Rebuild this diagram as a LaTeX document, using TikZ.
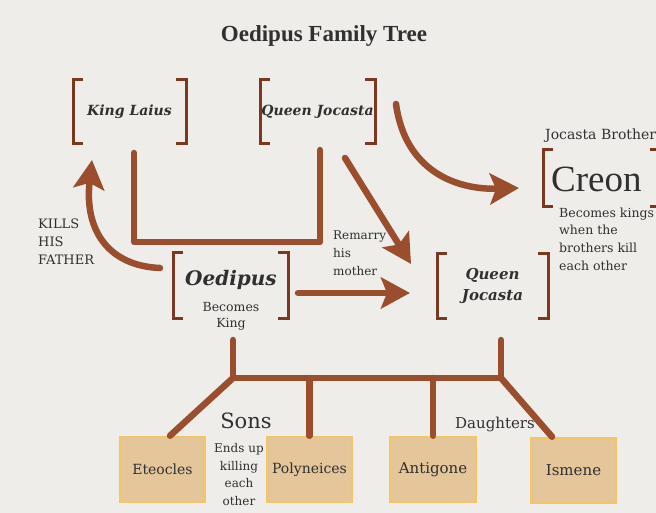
\documentclass[tikz,border=0pt]{standalone}
\usepackage{fontspec}
\setmainfont{DejaVu Serif}
\newfontfamily\titlefont{Liberation Serif}
\usetikzlibrary{arrows.meta}
\definecolor{bg}{HTML}{EEEDEA}
\definecolor{brownline}{HTML}{9A4E2D}
\definecolor{bracketc}{HTML}{7A3820}
\definecolor{txt}{HTML}{303030}
\definecolor{boxfill}{HTML}{E5C59A}
\definecolor{boxedge}{HTML}{F3C468}
\newcommand\setfs[2]{\fontsize{#1}{#2}\selectfont}
\newcommand\drawbrackets[1]{%
  \draw[bracketline] ([xshift=10pt]#1.north west) -- (#1.north west) -- (#1.south west) -- ([xshift=10pt]#1.south west);
  \draw[bracketline] ([xshift=-10pt]#1.north east) -- (#1.north east) -- (#1.south east) -- ([xshift=-10pt]#1.south east);}
\begin{document}
\begin{tikzpicture}[x=1pt,y=-1pt,
  bracketline/.style={draw=bracketc, line width=3pt},
  frame/.style={inner sep=0pt, outer sep=0pt, text=txt},
  note/.style={inner sep=0pt, text=txt},
  conn/.style={draw=brownline, line width=6.5pt, line cap=round, line join=round},
  arr/.style={conn, -{Stealth[length=29pt,width=31pt,inset=6pt]}},
  kid/.style={draw=boxedge, fill=boxfill, line width=2.5pt, minimum width=85pt, minimum height=65pt, inner sep=0pt, text=txt}]
\fill[bg] (0,0) rectangle (656,513);
\useasboundingbox (0,0) rectangle (656,513);

% title
\node[note, font=\titlefont\bfseries\setfs{23}{27}] (title) at (324,36) {Oedipus Family Tree};

% bracketed people
\node[frame, minimum width=113pt, minimum height=64pt, font=\bfseries\itshape\setfs{14}{16}] (laius) at (129.5,112) {King Laius};
\node[frame, minimum width=115pt, minimum height=64pt, font=\bfseries\itshape\setfs{14}{16}] (jocA) at (317.5,112) {Queen Jocasta};
\node[frame, minimum width=115pt, minimum height=65pt] (oed) at (230.5,285.5) {};
\node[note, font=\bfseries\itshape\setfs{20}{24}, anchor=base] (oedname) at (231,285) {Oedipus};
\node[note, align=center, anchor=north, font=\setfs{12.5}{16}] (oednote) at (231,302.5) {Becomes\\King};
\node[frame, minimum width=111pt, minimum height=64pt, align=center, font=\bfseries\itshape\setfs{15}{21}] (jocB) at (492.5,286) {Queen\\Jocasta};
\node[frame, minimum width=117pt, minimum height=57pt] (creonbox) at (601.5,178.5) {};
\node[note, font=\titlefont\setfs{37}{40}, anchor=base west] (creon) at (551,192) {Creon};
\drawbrackets{laius}
\drawbrackets{jocA}
\drawbrackets{oed}
\drawbrackets{jocB}
\drawbrackets{creonbox}

% annotations
\node[note, anchor=base west, font=\setfs{14}{16}] (jbro) at (545,140) {Jocasta Brother};
\node[note, align=left, anchor=north west, font=\setfs{12.5}{17.7}] (creonnote) at (559,207.5) {Becomes kings\\when the\\brothers kill\\each other};
\node[note, align=left, anchor=north west, font=\setfs{13}{18}] (kills) at (38,218.5) {KILLS\\HIS\\FATHER};
\node[note, align=left, anchor=north west, font=\setfs{12}{18}] (remarry) at (333,231) {Remarry\\his\\mother};
\node[note, anchor=base, font=\setfs{21}{24}] (sons) at (246,428) {Sons};
\node[note, align=center, anchor=north, font=\setfs{12}{17.7}] (ends) at (239,443) {Ends up\\killing\\each\\other};
\node[note, anchor=base, font=\setfs{15}{18}] (daughters) at (495,428) {Daughters};

% children
\node[kid, font=\setfs{14}{16}] (ete) at (162.5,469.5) {Eteocles};
\node[kid, font=\setfs{14}{16}] (poly) at (309.5,469.5) {Polyneices};
\node[kid, minimum width=86pt, font=\setfs{15}{17}] (anti) at (433,469.5) {Antigone};
\node[kid, font=\setfs{15}{17}] (ism) at (573.5,470.5) {Ismene};

% parents frame
\coordinate (laiusdrop) at (134,153);
\coordinate (jocAdrop) at (320,150);
\coordinate (frameturn) at (320,242);
\draw[conn] (laiusdrop) |- (frameturn) -- (jocAdrop);

% arrows
\coordinate (killstart) at (160,268);
\coordinate (killtip) at (92,160);
\draw[arr] (killstart) .. controls (110,266) and (84,232) .. (killtip);
\coordinate (remstart) at (345,158);
\coordinate (remtip) at (411,264);
\draw[arr] (remstart) -- (remtip);
\coordinate (marstart) at (298,293);
\coordinate (martip) at (410,293);
\draw[arr] (marstart) -- (martip);
\coordinate (brostart) at (396,104);
\coordinate (brotip) at (519,188);
\draw[arr] (brostart) .. controls (405,170) and (455,190) .. (brotip);

% children tree
\coordinate (oedbot) at (233,340);
\coordinate (jocbot) at (501,340);
\coordinate (jL) at (233,378);
\coordinate (jR) at (501,378);
\draw[conn] (oedbot) -- (jL) -- (jR) -- (jocbot);
\draw[conn] (jL) -- ([xshift=7.5pt]ete.north);
\draw[conn] (jL -| poly.north) -- (poly.north);
\draw[conn] (jL -| anti.north) -- (anti.north);
\draw[conn] (jR) -- ([xshift=-21.5pt]ism.north);
\end{tikzpicture}
\end{document}
